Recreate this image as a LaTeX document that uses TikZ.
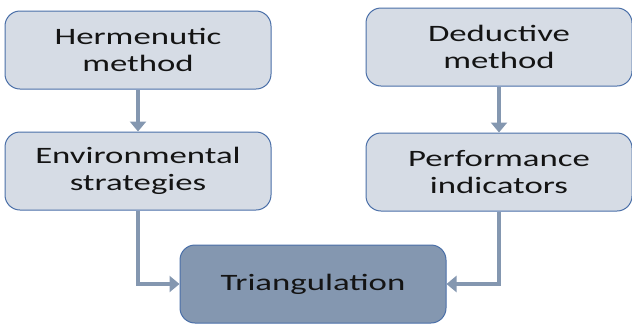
\documentclass[tikz,border=0pt]{standalone}
\usepackage{fontspec}
\setmainfont{Carlito}[FakeStretch=1.48]
\usetikzlibrary{arrows.meta}
\definecolor{boxfill}{HTML}{D6DCE5}
\definecolor{boxline}{HTML}{4A6FA8}
\definecolor{darkfill}{HTML}{8497B0}
\definecolor{flow}{HTML}{8497B0}
\tikzset{
  stage/.style={draw=boxline, line width=1pt, fill=boxfill, rounded corners=15pt,
    minimum width=266pt, minimum height=78pt, align=center, inner sep=0pt,
    font=\fontsize{23.5}{27}\selectfont, text=black!92},
  result/.style={stage, fill=darkfill},
  flowline/.style={draw=flow, line width=4.5pt, -{Triangle[length=10pt,width=16pt]}}
}
\begin{document}
\begin{tikzpicture}[x=1pt,y=-1pt]
  \useasboundingbox (0,0) rectangle (632,325);
  \node[stage] (herm) at (138,50) {Hermenutic\\method};
  \node[stage] (env)  at (138,171) {Environmental\\strategies};
  \node[stage] (ded)  at (499,47) {Deductive\\method};
  \node[stage] (perf) at (499,172) {Performance\\indicators};
  \node[result] (tri) at (313,284) {Triangulation};
  \draw[flowline] (herm) -- (env);
  \draw[flowline] (ded) -- (perf);
  \draw[flowline] (env.south) |- (tri.west);
  \draw[flowline] (perf.south) |- (tri.east);
\end{tikzpicture}
\end{document}
